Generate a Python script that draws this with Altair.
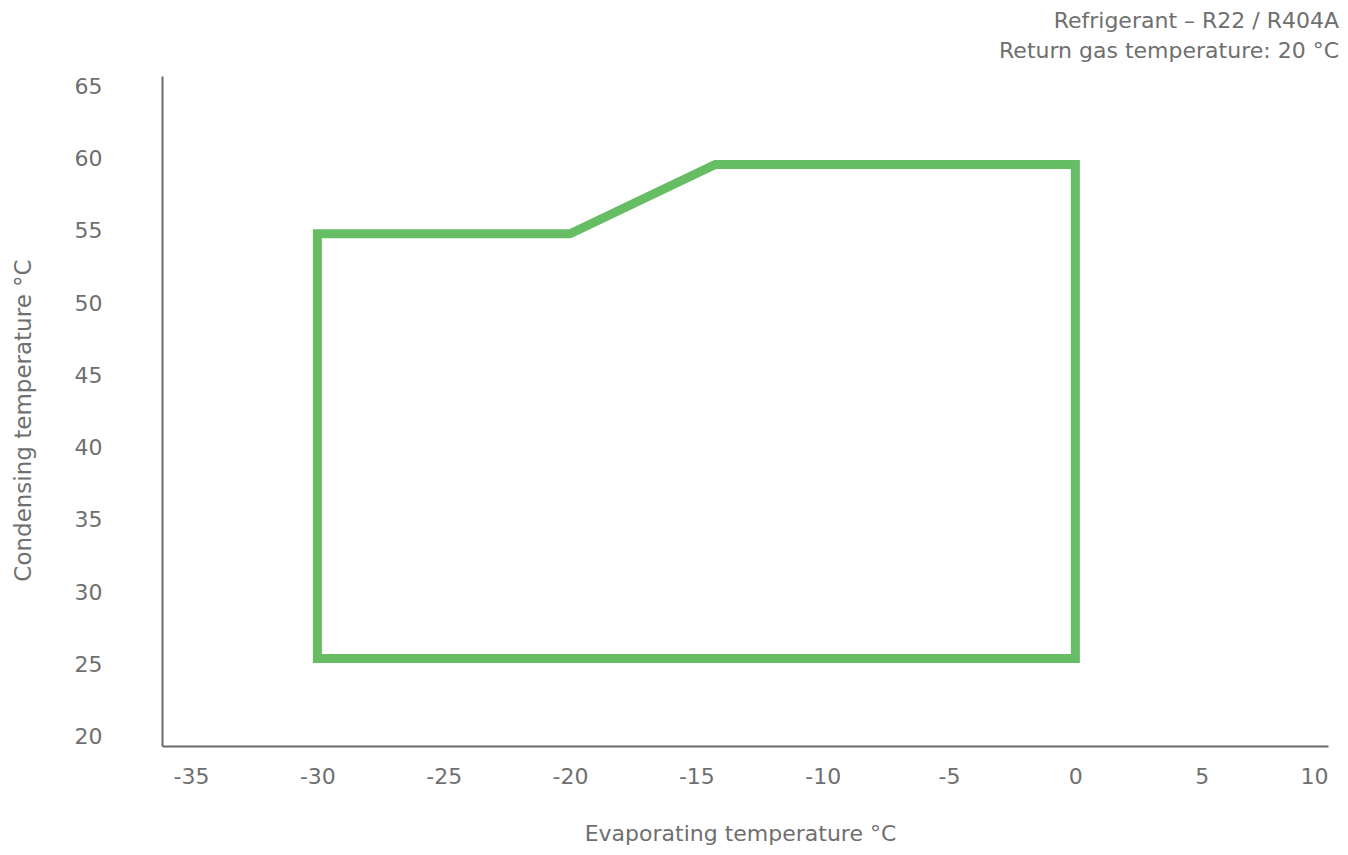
import altair as alt
import pandas as pd

# Operating envelope outline (evaporating temp °C, condensing temp °C), in drawing order
evap = [-30, -30, -20, -14.25, 0, 0, -30]
cond = [25.4, 54.8, 54.8, 59.6, 59.6, 25.4, 25.4]
order = list(range(len(evap)))

x_ticks = [-35, -30, -25, -20, -15, -10, -5, 0, 5, 10]
y_ticks = [20, 25, 30, 35, 40, 45, 50, 55, 60, 65]

title_lines = ["Refrigerant – R22 / R404A", "Return gas temperature: 20 °C"]
x_title = "Evaporating temperature °C"
y_title = "Condensing temperature °C"

df = pd.DataFrame({"evap": evap, "cond": cond, "order": order})

GRAY = "#6f6f6f"
AXIS = "#6b6a6f"
GREEN = "#66bd63"
FONT = "DejaVu Sans"
HYPHEN_LABEL = "datum.value < 0 ? '-' + abs(datum.value) : '' + datum.value"

chart = (
    alt.Chart(df)
    .mark_line(color=GREEN, strokeWidth=9, strokeJoin="miter", strokeCap="square")
    .encode(
        x=alt.X(
            "evap:Q",
            scale=alt.Scale(domain=[-36.15, 10], nice=False, zero=False),
            axis=alt.Axis(
                values=x_ticks,
                labelExpr=HYPHEN_LABEL,
                title=x_title,
                grid=False,
                ticks=False,
                tickSize=0,
                domainColor=AXIS,
                domainWidth=2,
                labelFlush=True,
                labelPadding=30,
                labelBaseline="middle",
                labelColor=GRAY,
                labelFont=FONT,
                labelFontSize=22,
                titleFont=FONT,
                titleFontSize=22,
                titleFontWeight="normal",
                titleColor=GRAY,
                titleX=578,
                titleY=87,
                titleBaseline="middle",
            ),
        ),
        y=alt.Y(
            "cond:Q",
            scale=alt.Scale(domain=[19.34, 65.73], nice=False, zero=False),
            axis=alt.Axis(
                values=y_ticks,
                labelExpr=HYPHEN_LABEL,
                title=y_title,
                grid=False,
                ticks=False,
                tickSize=0,
                domainColor=AXIS,
                domainWidth=2,
                labelPadding=60,
                labelColor=GRAY,
                labelFont=FONT,
                labelFontSize=22,
                titleFont=FONT,
                titleFontSize=23,
                titleFontWeight="normal",
                titleColor=GRAY,
                titleX=-139,
                titleY=344,
                titleBaseline="middle",
            ),
        ),
        order="order:Q",
    )
    .properties(
        width=1166,
        height=670,
        autosize="none",
        background="white",
        padding={"left": 154, "top": 68, "right": 12, "bottom": 100},
        title=alt.TitleParams(
            text=title_lines,
            anchor="end",
            frame="group",
            align="right",
            baseline="bottom",
            font=FONT,
            fontSize=22,
            fontWeight="normal",
            color=GRAY,
            lineHeight=30,
            offset=15,
            dx=11,
            dy=24,
        ),
    )
    .configure_view(stroke=None, strokeWidth=0)
)

chart.save("out.html", embed_options={"renderer": "svg", "actions": False})
